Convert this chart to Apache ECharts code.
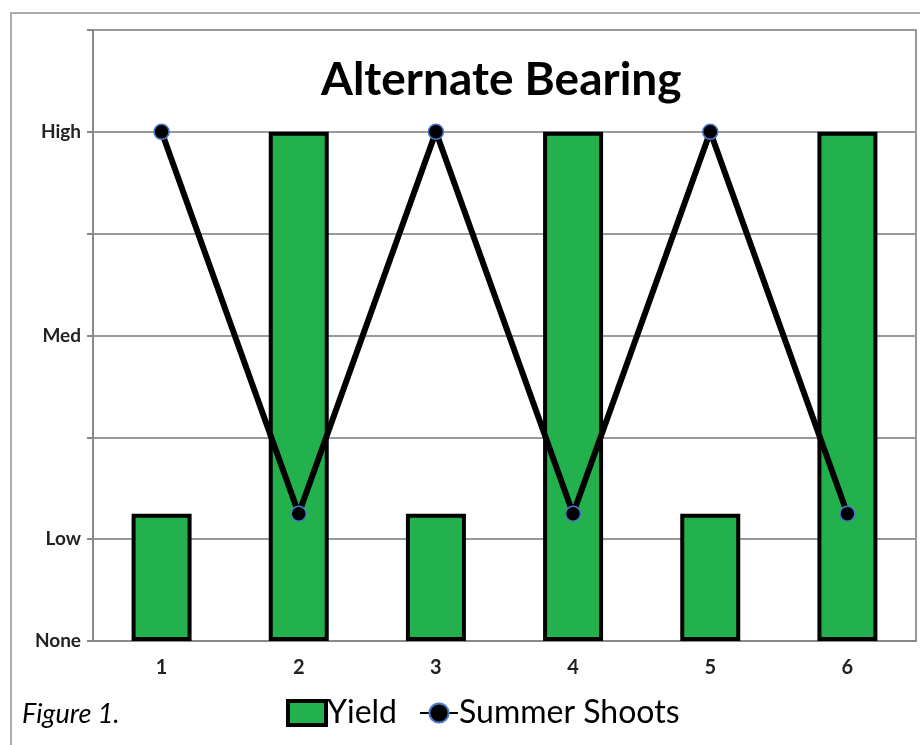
<!DOCTYPE html>
<html style="height: 100%">
<head>
	<meta charset="utf-8">
</head>
<body style="height: 100%; margin: 0; background-color: #fff;">
<div id="container" style="width: 920px; height: 745px"></div>
<script type="text/javascript" src="https://cdn.jsdelivr.net/npm/echarts@6/dist/echarts.min.js"></script>
<script type="text/javascript">
	var categories = ['1', '2', '3', '4', '5', '6'];
	var yieldValues = [1.25, 5, 1.25, 5, 1.25, 5];
	var shootValues = [5, 1.25, 5, 1.25, 5, 1.25];
	var yLabels = ['None', 'Low', '', 'Med', '', 'High', ''];

	var dom = document.getElementById("container");
	var myChart = echarts.init(dom);
	var font = 'Lato, "Open Sans", sans-serif';

	var option = {
		animation: false,
		title: {
			text: 'Alternate Bearing',
			left: 316,
			top: 52,
			textStyle: {
				fontFamily: font,
				fontSize: 46,
				fontWeight: 'bold',
				color: '#000'
			}
		},
		legend: {
			left: 281,
			top: 692,
			itemWidth: 38,
			itemHeight: 24,
			itemGap: 22,
			textStyle: {
				fontFamily: font,
				fontSize: 32,
				color: '#000',
				padding: [0, 0, 0, -4]
			},
			data: [{
				name: 'Yield',
				icon: 'rect',
				itemStyle: { borderWidth: 4, borderColor: '#000' }
			}, {
				name: 'Summer Shoots'
			}]
		},
		grid: {
			left: 93,
			right: 4,
			top: 30,
			bottom: 104,
			show: true,
			borderColor: '#999',
			borderWidth: 2
		},
		xAxis: {
			type: 'category',
			data: categories,
			axisLine: { lineStyle: { color: '#888', width: 2 } },
			axisTick: { show: false },
			axisLabel: {
				margin: 17,
				fontFamily: font,
				fontSize: 20,
				fontWeight: 'bold',
				color: '#222'
			}
		},
		yAxis: {
			type: 'value',
			min: 0,
			max: 6,
			interval: 1,
			axisLine: { show: true, lineStyle: { color: '#888', width: 2 } },
			axisTick: { show: true, length: 6, lineStyle: { color: '#888', width: 2 } },
			splitLine: { lineStyle: { color: '#999', width: 2 } },
			axisLabel: {
				margin: 12,
				fontFamily: font,
				fontSize: 19,
				fontWeight: 'bold',
				color: '#222',
				formatter: function(v) {
					return yLabels[Math.round(v)] || '';
				}
			}
		},
		series: [{
			name: 'Yield',
			type: 'bar',
			data: yieldValues,
			barWidth: 60,
			itemStyle: {
				color: '#22b14c',
				borderColor: '#000',
				borderWidth: 4
			}
		}, {
			name: 'Summer Shoots',
			type: 'line',
			data: shootValues,
			symbol: 'circle',
			symbolSize: 15,
			lineStyle: { color: '#000', width: 6 },
			itemStyle: {
				color: '#000',
				borderColor: '#4a78c8',
				borderWidth: 1.5
			},
			z: 3
		}],
		graphic: [{
			type: 'rect',
			shape: { x: 11, y: 13, width: 930, height: 760 },
			style: { fill: 'none', stroke: '#aaa', lineWidth: 2 },
			silent: true
		}, {
			type: 'text',
			left: 22,
			top: 701,
			style: {
				text: 'Figure 1.',
				font: 'italic 27px ' + font,
				fill: '#000'
			}
		}]
	};
	myChart.setOption(option);
</script>
</body>
</html>
